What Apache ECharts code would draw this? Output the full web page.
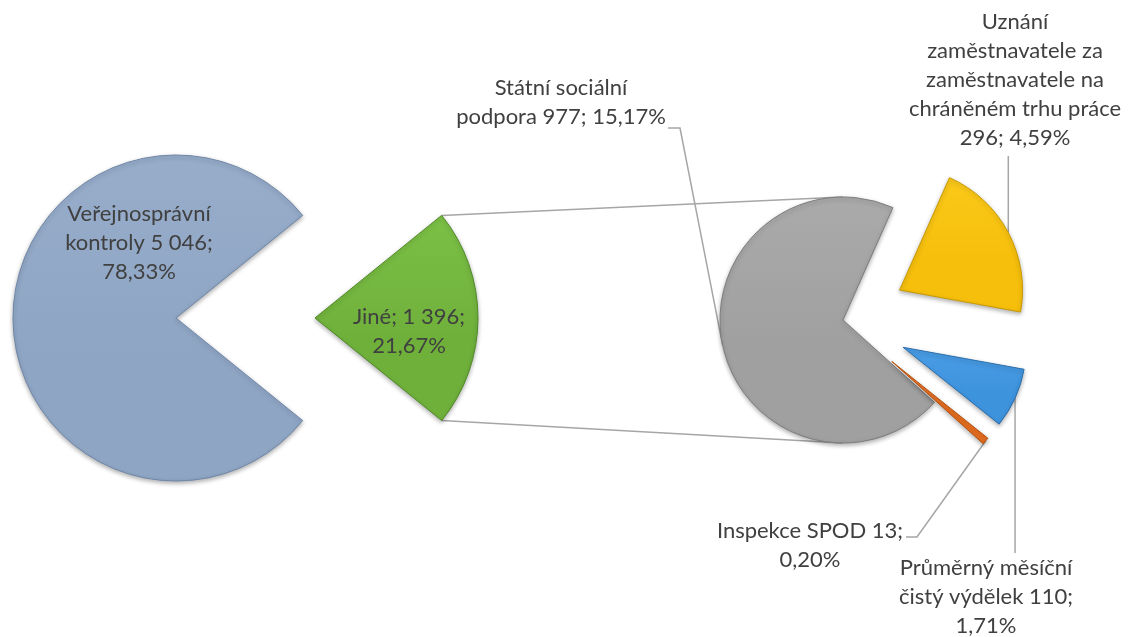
<!DOCTYPE html>
<html>
<head>
<meta charset="utf-8">
<script src="https://cdn.jsdelivr.net/npm/echarts@6/dist/echarts.min.js"></script>
<style>
html, body { margin: 0; padding: 0; background: #fff; }
#chart { width: 1131px; height: 637px; }
</style>
</head>
<body>
<div id="chart"></div>
<script>
// hlavni kolac
var mainNames = ['Veřejnosprávní kontroly', 'Jiné'];
var mainValues = [5046, 1396];
// rozpad polozky "Jiné"
var subNames = ['Státní sociální podpora', 'Uznání zaměstnavatele za zaměstnavatele na chráněném trhu práce', 'Průměrný měsíční čistý výdělek', 'Inspekce SPOD'];
var subValues = [977, 296, 110, 13];

// texty popisku (zalomeni jako v Excelu), {v} = hodnota, {p} = podil z celku
var mainLabels = ['Veřejnosprávní\nkontroly {v};\n{p}', 'Jiné; {v};\n{p}'];
var subLabels = ['Státní sociální\npodpora {v}; {p}', 'Uznání\nzaměstnavatele za\nzaměstnavatele na\nchráněném trhu práce\n{v}; {p}', 'Průměrný měsíční\nčistý výdělek {v};\n{p}', 'Inspekce SPOD {v};\n{p}'];

// [svetlejsi, zakladni, tmavy okraj]
var mainColors = [['#97adca', '#8ea5c4', '#6f87a8'], ['#7cc046', '#6fb03b', '#4f8a25']];
var subColors = [['#aaaaaa', '#a0a0a0', '#7d7d7d'], ['#fbc919', '#f6bf0c', '#c99a00'], ['#4a9de6', '#3e93dd', '#2a6fae'], ['#ee7a2c', '#e36c1e', '#b4500f']];

// rozlozeni
var c1 = [176, 318], r1 = 163, start1 = -39, explode1 = [0, 139];
var c2 = [843, 320], r2 = 123, start2 = 318, explode2 = [0, 64, 66, 64];
var mainLabelPos = [[139, 243], [409, 331]];
var subLabelPos = [[561, 102], [1015, 80], [986, 597], [810, 545]];
var FONT = 'Lato, "Noto Sans", sans-serif';

var total = mainValues.reduce(function (a, b) { return a + b; }, 0);

function fmtNum(v) {
  return String(v).replace(/\B(?=(\d{3})+(?!\d))/g, ' ');
}
function fmtPct(v) {
  return (v / total * 100).toFixed(2).replace('.', ',') + '%';
}
function angles(values, start) {
  var sum = values.reduce(function (a, b) { return a + b; }, 0), a = start, out = [];
  values.forEach(function (v) {
    var span = v / sum * 360;
    out.push({ from: a, to: a - span, mid: a - span / 2 });
    a -= span;
  });
  return out;
}
function rad(d) { return d * Math.PI / 180; }

var ang1 = angles(mainValues, start1);
var ang2 = angles(subValues, start2);

function sliceCenter(c, off, mid) {
  return [c[0] + off * Math.cos(rad(mid)), c[1] - off * Math.sin(rad(mid))];
}

// leader lines: body zlomu pro jednotlive popisky
function subLine(i, s) {
  if (i === 0) return [s, [680, 128], [668, 128]];
  if (i === 1) return [s, [s[0], 156], [s[0], 156]];
  if (i === 2) return [s, [s[0], 553], [s[0], 553]];
  return [s, [917, 537], [906, 537]];
}

var series = [];

function addSlices(names, values, colors, labels, ang, c, r, start, explode, labelPos, outside) {
  names.forEach(function (nm, k) {
    var sc = sliceCenter(c, explode[k], ang[k].mid);
    series.push({
      type: 'pie',
      silent: true,
      animation: false,
      center: sc,
      radius: [0, r],
      startAngle: start,
      clockwise: true,
      avoidLabelOverlap: false,
      data: names.map(function (n, j) {
        var vis = j === k;
        return {
          name: n,
          value: values[j],
          itemStyle: vis ? {
            color: new echarts.graphic.LinearGradient(0, 0, 0, 1, [
              { offset: 0, color: colors[j][0] },
              { offset: 0.6, color: colors[j][1] },
              { offset: 1, color: colors[j][1] }
            ]),
            borderColor: colors[j][2],
            borderWidth: 1,
            shadowBlur: 4,
            shadowColor: 'rgba(0,0,0,0.3)',
            shadowOffsetY: 2
          } : { color: 'rgba(0,0,0,0)' },
          label: { show: vis },
          labelLine: { show: vis && outside }
        };
      }),
      label: {
        position: outside ? 'outside' : 'inside',
        color: '#404040',
        fontFamily: FONT,
        fontSize: 22,
        lineHeight: 29,
        formatter: function (p) {
          return labels[p.dataIndex].replace('{v}', fmtNum(p.value)).replace('{p}', fmtPct(p.value));
        }
      },
      labelLine: {
        lineStyle: { color: '#a6a6a6', width: 1.5 }
      },
      labelLayout: function (p) {
        var pos = labelPos[p.dataIndex];
        var res = { x: pos[0], y: pos[1], align: 'center', verticalAlign: 'middle' };
        if (outside) {
          var a = ang[p.dataIndex].mid;
          var s = [sc[0] + r * Math.cos(rad(a)), sc[1] - r * Math.sin(rad(a))];
          res.labelLinePoints = subLine(p.dataIndex, s);
        }
        return res;
      }
    });
  });
}

addSlices(mainNames, mainValues, mainColors, mainLabels, ang1, c1, r1, start1, explode1, mainLabelPos, false);
addSlices(subNames, subValues, subColors, subLabels, ang2, c2, r2, start2, explode2, subLabelPos, true);

// spojovaci cary mezi "Jiné" a druhym kolacem
var jc = sliceCenter(c1, explode1[1], ang1[1].mid);
var topPt = [jc[0] + r1 * Math.cos(rad(ang1[1].from)), jc[1] - r1 * Math.sin(rad(ang1[1].from))];
var botPt = [jc[0] + r1 * Math.cos(rad(ang1[1].to)), jc[1] - r1 * Math.sin(rad(ang1[1].to))];

var option = {
  backgroundColor: '#ffffff',
  graphic: [
    { type: 'line', z: -1, shape: { x1: topPt[0], y1: topPt[1], x2: c2[0], y2: c2[1] - r2 }, style: { stroke: '#a6a6a6', lineWidth: 1.5 } },
    { type: 'line', z: -1, shape: { x1: botPt[0], y1: botPt[1], x2: c2[0], y2: c2[1] + r2 }, style: { stroke: '#a6a6a6', lineWidth: 1.5 } }
  ],
  series: series
};

var chart = echarts.init(document.getElementById('chart'));
chart.setOption(option);
</script>
</body>
</html>
